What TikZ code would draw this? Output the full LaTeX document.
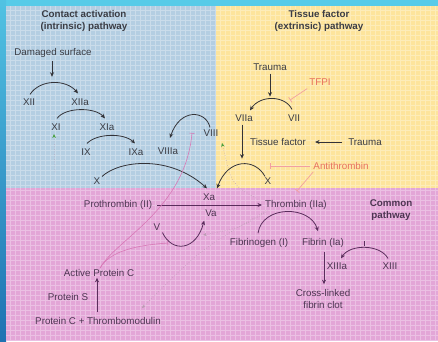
\documentclass[tikz,border=0pt]{standalone}
\usepackage{fontspec}
\setmainfont{Liberation Sans}
\usetikzlibrary{arrows.meta,calc}
\definecolor{frameC}{HTML}{57CBE8}
\definecolor{frameD}{HTML}{1F72B2}
\definecolor{blueP}{HTML}{B4CEE2}
\definecolor{yelP}{HTML}{FDE49C}
\definecolor{pinkP}{HTML}{E3A6D7}
\definecolor{txt}{HTML}{3A3C44}
\definecolor{ptxt}{HTML}{4D3552}
\definecolor{arcc}{HTML}{333338}
\definecolor{parcc}{HTML}{5A2D5C}
\definecolor{redt}{HTML}{E8705E}
\definecolor{inhc}{HTML}{F2A0A0}
\definecolor{apcc}{HTML}{D878B6}
\definecolor{fbc}{HTML}{B89AB0}
\definecolor{grn}{HTML}{4AA040}
\tikzset{
  lb/.style={font=\fontsize{9.8}{12}\selectfont, text=txt, inner sep=1pt},
  hd/.style={font=\bfseries\fontsize{9.8}{12}\selectfont, text=txt, align=center, inner sep=1pt},
  rd/.style={lb, text=redt},
  pl/.style={lb, text=ptxt},
  arcline/.style={draw=arcc, line width=0.8pt, -{Stealth[length=4.5pt,width=4pt]}},
  parcline/.style={draw=parcc, line width=0.8pt, -{Stealth[length=4.5pt,width=4pt]}},
  inhline/.style={draw=inhc, line width=0.7pt, -{Bar[width=6pt]}},
  apcline/.style={draw=apcc, line width=0.6pt, -{Bar[width=5pt]}},
  fbline/.style={draw=fbc, line width=0.5pt, dotted, -{Stealth[length=3.5pt,width=3pt]}},
  grnline/.style={draw=fbc, line width=0.5pt, dotted, -{Stealth[length=4pt,width=3.5pt,color=grn]}}
}
\begin{document}
\begin{tikzpicture}[x=1pt,y=-1pt]
\useasboundingbox (0,0) rectangle (438,341);
% frame
\fill[frameC] (0,0) rectangle (438,341);
\shade[top color=frameC!90!frameD, bottom color=frameD] (0,0) rectangle (6,341);
% panels
\fill[blueP] (6,6) rectangle (216,188);
\fill[yelP] (216,6) rectangle (438,188);
\fill[pinkP] (6,188) rectangle (438,341);
\begin{scope}
\clip (6,6) rectangle (438,341);
\draw[white, opacity=0.3, line width=0.6pt, step=5pt] (6,6) grid (438,341);
\end{scope}

% headings
\node[hd] (hA) at (84,21) {Contact activation\\(intrinsic) pathway};
\node[hd] (hB) at (319,21) {Tissue factor\\(extrinsic) pathway};
\node[hd, text=ptxt] (hC) at (391,210) {Common\\pathway};

% intrinsic
\node[lb] (dam) at (53,53) {Damaged surface};
\node[lb] (XII) at (29,102) {XII};
\node[lb] (XIIa) at (80,102) {XIIa};
\node[lb] (XI) at (56,127) {XI};
\node[lb] (XIa) at (107,127) {XIa};
\node[lb] (IX) at (86,152) {IX};
\node[lb] (IXa) at (136,152) {IXa};
\node[lb] (VIIIa) at (168,151.5) {VIIIa};
\node[lb] (VIII) at (211,133) {VIII};
\node[lb] (X1) at (97,181) {X};

% extrinsic
\node[lb] (tr1) at (270,67) {Trauma};
\node[rd] (tfpi) at (320,82) {TFPI};
\node[lb] (VIIa) at (244,118) {VIIa};
\node[lb] (VII) at (294,118) {VII};
\node[lb] (tf) at (278,142) {Tissue factor};
\node[lb] (tr2) at (365,142) {Trauma};
\node[lb] (X2) at (268,181) {X};
\node[rd] (at) at (341,166) {Antithrombin};

% common
\node[pl] (Xa) at (209,197) {Xa};
\node[pl] (Va) at (211,213) {Va};
\node[pl] (pro) at (118,205) {Prothrombin (II)};
\node[pl] (thr) at (296,205) {Thrombin (IIa)};
\node[pl] (V) at (157,227) {V};
\node[pl] (fgn) at (259,243) {Fibrinogen (I)};
\node[pl] (fbn) at (323,243) {Fibrin (Ia)};
\node[pl] (XIIIa) at (337,266) {XIIIa};
\node[pl] (XIII) at (390,266) {XIII};
\node[pl, align=center] (clot) at (323,299) {Cross-linked\\fibrin clot};
\node[pl] (apc) at (99,273) {Active Protein C};
\node[pl] (ps) at (68,297) {Protein S};
\node[pl] (pct) at (98,321) {Protein C + Thrombomodulin};

% target coordinates
\coordinate (tfpiT) at (290,100);
\coordinate (atX) at (270,166);
\coordinate (atT) at (297,191);
\coordinate (apcA) at (192,133);
\coordinate (apcB) at (168,243);
\coordinate (fbV) at (203,235);
\coordinate (fbPC) at (142,308);
\coordinate (fbVIII) at (222,143);
\coordinate (fbXI) at (54,134);
\coordinate (fbXIs) at (55,172);
\coordinate (fbXIII) at (364,246);

% intrinsic arcs
\draw[arcline] ($(dam.south)+(-1,2)$) -- ($(dam.south)+(-1,18)$);
\draw[arcline] ($(XII.north)+(1,-3)$) .. controls (40,79) and (66,79) .. ($(XIIa.north)+(-2,-4)$);
\draw[arcline] ($(XI.north)+(1,-4)$) .. controls (65,107) and (95,107) .. ($(XIa.north)+(-2,-4)$);
\draw[arcline] ($(IX.north)+(1,-4)$) .. controls (97,133) and (124,133) .. ($(IXa.north)+(-1,-4)$);
\draw[arcline] ($(VIII.north)+(-1,-1)$) .. controls (206,110) and (180,108) .. ($(VIIIa.north)+(2,-9)$);
\draw[arcline] ($(X1.north)+(5,0)$) .. controls (120,160) and (170,155) .. ($(Xa.north)+(-2,-4)$);

% extrinsic arcs
\draw[arcline] ($(tr1.south)+(0,2)$) -- ($(tr1.south)+(0,25)$);
\draw[arcline] ($(VII.north)+(-2,-4)$) .. controls (285,95) and (260,95) .. ($(VIIa.north)+(6,-3)$);
\draw[arcline] ($(VIIa.south)+(-2,2)$) -- ($(VIIa.south)+(-2,36)$);
\draw[arcline] ($(tr2.west)+(-5,0)$) -- ($(tf.east)+(8,0)$);
\draw[arcline] ($(X2.north)+(-3,0)$) .. controls (255,158) and (228,158) .. ($(Xa.north)+(8,-4)$);
\draw[inhline] ($(tfpi.south west)+(-1,2)$) -- (tfpiT);
\draw[inhline] ($(at.west)+(-2,0)$) -- (atX);
\draw[inhline] ($(at.south west)+(1,1)$) -- (atT);

% common arcs
\draw[parcline] ($(pro.east)+(4,0)$) -- ($(thr.west)+(-2,0)$);
\draw[parcline] ($(V.south east)+(1,1)$) .. controls (172,253) and (196,251) .. ($(Va.south west)+(0,3)$);
\draw[parcline] ($(fgn.north)+(-1,-4)$) .. controls (262,205) and (310,205) .. ($(fbn.north)+(-5,-6)$);
\draw[parcline] ($(fbn.south)+(1,3)$) -- ($(clot.north)+(1,-4)$);
\draw[parcline] ($(XIII.north)+(-2,-3)$) .. controls (380,244) and (350,244) .. ($(XIIIa.north)+(4,-3)$);
\draw[parcline] ($(pct.north)+(-1,-4)$) -- ($(apc.south)+(-2,0)$);

% protein C inhibition
\draw[apcline] ($(apc.north)+(1,0)$) .. controls (115,240) and (185,210) .. (apcA);
\draw[apcline] ($(apc.north)+(1,0)$) .. controls (110,250) and (140,245) .. (apcB);

% thrombin feedback
\draw[fbline] ($(thr.south west)+(4,0)$) .. controls (240,228) .. (fbV);
\draw[fbline] ($(thr.south west)+(2,0)$) .. controls (200,250) .. (fbPC);
\draw[grnline] ($(thr.north west)+(-6,0)$) .. controls (232,185) .. (fbVIII);
\draw[grnline] (fbXIs) -- (fbXI);
\draw[draw=parcc, line width=0.6pt] ($(fbXIII)+(0,-5)$) -- (fbXIII);
\end{tikzpicture}
\end{document}
